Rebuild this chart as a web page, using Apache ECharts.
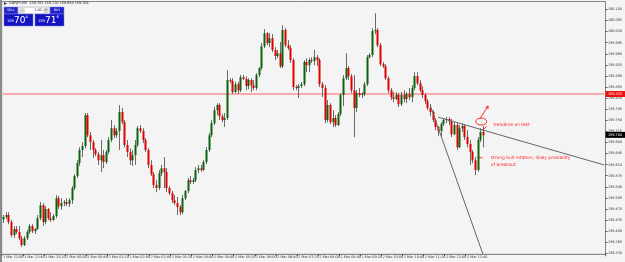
<!DOCTYPE html>
<html><head><meta charset="utf-8">
<script src="https://cdn.jsdelivr.net/npm/echarts@6/dist/echarts.min.js"></script>
<style>html,body{margin:0;padding:0;background:#f4f4f4;}#c{width:625px;height:262px;}</style>
</head><body><div id="c"></div>
<script>
const opens = [159.438,159.445,
159.451,159.429,159.388,159.407,159.397,159.378,159.356,159.378,159.397,159.416,159.400,159.407,159.441,159.482,159.429,159.470,159.441,159.435,159.448,159.504,159.479,159.489,159.492,159.486,
159.498,159.536,159.574,159.615,159.656,159.669,159.766,159.703,159.681,159.656,159.643,159.624,159.640,159.618,159.650,
159.688,159.725,159.703,159.716,159.776,159.744,159.672,159.650,159.624,159.640,159.672,159.725,159.716,
159.688,159.656,159.609,159.580,159.546,159.536,159.583,159.599,159.587,159.536,159.520,159.498,159.489,159.476,159.460,159.504,159.527,159.561,159.555,159.561,159.593,159.599,159.593,159.618,
159.656,159.703,159.741,159.782,159.798,159.763,159.751,159.757,159.877,159.874,159.839,159.864,159.845,159.886,159.880,159.858,159.877,159.861,159.852,159.893,
159.915,159.984,160.025,159.994,160.009,159.972,159.953,159.962,159.921,160.035,159.987,159.978,159.940,159.855,159.852,159.858,159.864,159.934,159.924,159.940,
159.937,159.949,159.940,159.864,159.852,159.751,159.798,159.744,159.757,159.735,159.770,159.830,159.883,159.915,159.889,159.845,159.789,159.836,159.830,159.833,
159.864,159.949,159.956,160.032,160.035,159.987,159.927,159.921,159.883,159.845,159.823,159.817,159.830,159.801,159.830,159.817,159.833,
159.823,
159.852,159.889,159.867,159.845,159.830,159.811,159.789,159.776,159.751,159.729,159.716,159.738,159.751,159.754,159.747,159.706,159.735,159.665,159.725,159.732,159.697,159.675,159.650,159.624,159.593,159.688,159.713];
const closes = [159.445,159.451,
159.429,159.388,159.407,159.397,159.378,159.356,159.378,159.397,159.416,159.400,159.407,159.441,159.482,159.429,159.470,159.441,159.435,159.448,159.504,159.479,159.489,159.492,159.486,159.498,
159.536,159.574,159.615,159.656,159.669,159.766,159.703,159.681,159.656,159.643,159.624,159.640,159.618,159.650,159.688,
159.725,159.703,159.716,159.776,159.744,159.672,159.650,159.624,159.640,159.672,159.725,159.716,159.688,
159.656,159.609,159.580,159.546,159.536,159.583,159.599,159.587,159.536,159.520,159.498,159.489,159.476,159.460,159.504,159.527,159.561,159.555,159.561,159.593,159.599,159.593,159.618,159.656,
159.703,159.741,159.782,159.798,159.763,159.751,159.757,159.877,159.874,159.839,159.864,159.845,159.886,159.880,159.858,159.877,159.861,159.852,159.893,159.915,
159.984,160.025,159.994,160.009,159.972,159.953,159.962,159.921,160.035,159.987,159.978,159.940,159.855,159.852,159.858,159.864,159.934,159.924,159.940,159.937,
159.949,159.940,159.864,159.852,159.751,159.798,159.744,159.757,159.735,159.770,159.830,159.883,159.915,159.889,159.845,159.789,159.836,159.830,159.833,159.864,
159.949,159.956,160.032,160.035,159.987,159.927,159.921,159.883,159.845,159.823,159.817,159.830,159.801,159.830,159.817,159.833,159.823,
159.852,
159.889,159.867,159.845,159.830,159.811,159.789,159.776,159.751,159.729,159.716,159.738,159.751,159.754,159.747,159.706,159.735,159.665,159.725,159.732,159.697,159.675,159.650,159.624,159.593,159.688,159.713,159.703];
const lows = [159.426,159.438,
159.422,159.381,159.378,159.391,159.372,159.350,159.353,159.372,159.391,159.394,159.391,159.404,159.435,159.416,159.422,159.435,159.429,159.432,159.441,159.470,159.467,159.479,159.479,159.476,
159.486,159.530,159.568,159.606,159.634,159.662,159.697,159.656,159.631,159.637,159.609,159.587,159.599,159.612,159.643,
159.681,159.694,159.694,159.656,159.738,159.665,159.634,159.609,159.606,159.609,159.665,159.710,159.678,
159.650,159.599,159.574,159.536,159.523,159.530,159.574,159.536,159.523,159.514,159.489,159.482,159.451,159.451,159.454,159.498,159.520,159.549,159.549,159.555,159.583,159.587,159.590,159.612,
159.650,159.697,159.735,159.766,159.751,159.744,159.729,159.751,159.867,159.833,159.836,159.833,159.839,159.877,159.845,159.848,159.839,159.845,159.845,159.886,
159.908,159.978,159.987,159.981,159.965,159.940,159.946,159.915,159.915,159.981,159.972,159.931,159.845,159.845,159.820,159.852,159.858,159.902,159.902,159.931,
159.924,159.921,159.855,159.823,159.741,159.744,159.738,159.729,159.729,159.732,159.763,159.795,159.877,159.877,159.836,159.697,159.776,159.823,159.820,159.826,
159.858,159.946,159.949,160.022,159.981,159.921,159.915,159.877,159.836,159.814,159.807,159.814,159.792,159.795,159.807,159.804,159.814,
159.807,
159.845,159.861,159.839,159.820,159.801,159.782,159.763,159.744,159.719,159.700,159.697,159.732,159.741,159.735,159.697,159.703,159.656,159.662,159.713,159.688,159.665,159.609,159.615,159.577,159.587,159.681,159.665];
const highs = [159.451,159.460,
159.460,159.435,159.416,159.416,159.416,159.385,159.385,159.404,159.422,159.422,159.410,159.451,159.492,159.489,159.479,159.473,159.460,159.454,159.514,159.511,159.504,159.498,159.504,159.504,
159.542,159.580,159.624,159.665,159.681,159.773,159.773,159.713,159.688,159.662,159.650,159.688,159.656,159.656,159.697,
159.751,159.735,159.725,159.798,159.789,159.751,159.688,159.662,159.656,159.688,159.732,159.735,159.725,
159.694,159.662,159.624,159.587,159.561,159.593,159.609,159.634,159.599,159.542,159.527,159.514,159.508,159.482,159.514,159.530,159.568,159.574,159.568,159.602,159.609,159.609,159.624,159.665,
159.710,159.751,159.792,159.804,159.804,159.770,159.773,159.908,159.883,159.883,159.871,159.871,159.893,159.893,159.889,159.883,159.883,159.877,159.899,159.918,
159.994,160.038,160.028,160.025,160.022,159.981,159.972,159.997,160.050,160.041,160.003,159.987,159.946,159.861,159.864,159.871,159.940,159.946,159.946,159.949,
159.972,159.956,159.946,159.871,159.861,159.814,159.804,159.782,159.766,159.776,159.836,159.893,159.962,159.921,159.896,159.893,159.845,159.852,159.839,159.871,
159.956,159.962,160.041,160.088,160.041,159.994,159.934,159.927,159.889,159.852,159.839,159.839,159.836,159.839,159.845,159.839,159.852,
159.861,
159.902,159.902,159.877,159.858,159.836,159.817,159.801,159.782,159.757,159.732,159.744,159.757,159.760,159.760,159.754,159.744,159.741,159.735,159.741,159.738,159.719,159.688,159.656,159.634,159.697,159.725,159.732];
const totalSlots = 229;
const priceTicks = [160.100,160.065,160.030,159.995,159.960,159.925,159.890,159.855,159.820,159.785,159.750,159.715,159.680,159.645,159.610,159.575,159.540,159.505,159.470,159.435,159.400,159.365,159.330];
const timeLabels = ['1 Mar 22:00','1 Mar 22:40','1 Mar 23:20','2 Mar 00:00','2 Mar 00:40','2 Mar 01:20','2 Mar 02:00','2 Mar 02:40','2 Mar 03:20','2 Mar 04:00','2 Mar 04:40','2 Mar 05:20','2 Mar 06:00','2 Mar 06:40','2 Mar 07:20','2 Mar 08:00','2 Mar 08:40','2 Mar 09:20','2 Mar 10:00','2 Mar 10:40','2 Mar 11:20','2 Mar 12:00','2 Mar 12:40'];
const labelEvery = 8;
const hLinePrice = 159.833;
const bidPrice = 159.704;
const trend1 = [[165, 159.760], [228, 159.609]];
const trend2 = [[162, 159.798], [182, 159.328]];

const cats = Array.from({length: totalSlots}, (_, i) => String(i));
const ohlc = opens.map((o, i) => [i, o, closes[i], lows[i], highs[i]]);

const chart = echarts.init(document.getElementById('c'), null, {renderer: 'canvas'});
const fontFam = 'Tahoma, "DejaVu Sans", sans-serif';
const showLab = (i) => i % labelEvery === 0 && i / labelEvery < timeLabels.length;
const lineSeries = (pts, color, z) => ({type: 'line', data: pts, symbol: 'none', silent: true, z: z, clip: false,
  lineStyle: {color: color, width: 1, type: 'solid'}, itemStyle: {color: color}, animation: false});
chart.setOption({
  backgroundColor: '#f4f4f4',
  animation: false,
  grid: {left: 1, right: 13, top: 1.5, bottom: 7.7, show: true, borderColor: '#888', borderWidth: 1, backgroundColor: '#f4f4f4'},
  xAxis: {
    type: 'category', data: cats, boundaryGap: true,
    axisLine: {show: true, lineStyle: {color: '#888', width: 1}},
    axisTick: {show: true, length: 2, lineStyle: {color: '#555'}, interval: showLab},
    axisLabel: {show: true, interval: showLab, fontSize: 3.4, color: '#333', margin: 1.5, align: 'left', fontFamily: fontFam,
      formatter: (v, i) => showLab(i) ? timeLabels[i / labelEvery] : ''},
    splitLine: {show: false}
  },
  yAxis: {
    type: 'value', position: 'right', min: 159.327, max: 160.125, scale: true,
    axisLine: {show: true, lineStyle: {color: '#888'}},
    axisTick: {show: true, length: 2, lineStyle: {color: '#555'}, customValues: priceTicks},
    axisLabel: {show: true, fontSize: 3.4, color: '#333', margin: 2.5, fontFamily: fontFam, customValues: priceTicks, formatter: (v) => v.toFixed(3)},
    splitLine: {show: false}
  },
  series: [
    lineSeries([[0, hLinePrice], [totalSlots - 1, hLinePrice]], '#ff6060', 1),
    {
      type: 'custom', data: ohlc, encode: {x: 0, y: [1, 2, 3, 4]}, clip: true, z: 2,
      renderItem: function (params, api) {
        const i = api.value(0), o = api.value(1), c = api.value(2), l = api.value(3), h = api.value(4);
        const pO = api.coord([i, o]), pC = api.coord([i, c]), pL = api.coord([i, l]), pH = api.coord([i, h]);
        const x = Math.round(pO[0]) + 0.5;
        const top = Math.min(pO[1], pC[1]), bot = Math.max(pO[1], pC[1]);
        const col = c >= o ? '#0d620d' : '#e00000';
        return {type: 'group', children: [
          {type: 'line', shape: {x1: x, y1: pH[1], x2: x, y2: pL[1]}, style: {stroke: '#6a6a6a', lineWidth: 1}},
          {type: 'rect', shape: {x: x - 1, y: top, width: 2, height: Math.max(1, bot - top)}, style: {fill: col}}
        ]};
      }
    },
    lineSeries(trend1, '#666', 3),
    lineSeries(trend2, '#666', 3)
  ]
});

const annoRed = '#ff2a2a';
const P = (idx, price) => chart.convertToPixel({xAxisIndex: 0, yAxisIndex: 0}, [idx, price]);
const ell = P(181, 159.746);
const arrA = P(181, 159.757), arrB = P(184, 159.795);
const t1 = P(186, 159.735);
const t2 = P(185, 159.631);
const t3 = P(185, 159.609);
const tk = P(182, 159.722);
const dash = P(180, 159.634);
const hTagY = P(0, hLinePrice)[1];
const bidTagY = P(0, bidPrice)[1];
const axisX = P(totalSlots - 1, bidPrice)[0] + 1.3;
const ang = Math.atan2(arrB[1] - arrA[1], arrB[0] - arrA[0]);
const ah = 3;
const tag = (y, bg, price) => [
  {type: 'rect', z: 10, shape: {x: axisX, y: y - 3, width: 625 - axisX, height: 6}, style: {fill: bg}},
  {type: 'text', z: 11, x: axisX + 2.5, y: y, style: {text: price.toFixed(3), fill: '#fff', fontSize: 3.4, fontFamily: fontFam, verticalAlign: 'middle', align: 'left'}}
];
chart.setOption({
  graphic: [
    {type: 'rect', left: 0, top: 0, shape: {x: 0, y: 0, width: 2, height: 262}, style: {fill: '#8a8a8a'}},
    ...tag(hTagY, '#ee1111', hLinePrice),
    ...tag(bidTagY, '#000000', bidPrice),
    {type: 'ellipse', shape: {cx: ell[0] + 1, cy: ell[1], rx: 5.5, ry: 3.5}, style: {stroke: annoRed, fill: 'none', lineWidth: 1}},
    {type: 'line', shape: {x1: arrA[0], y1: arrA[1], x2: arrB[0], y2: arrB[1]}, style: {stroke: annoRed, lineWidth: 1}},
    {type: 'polyline', shape: {points: [[arrB[0] - ah * Math.cos(ang - 0.5), arrB[1] - ah * Math.sin(ang - 0.5)], [arrB[0], arrB[1]], [arrB[0] - ah * Math.cos(ang + 0.5), arrB[1] - ah * Math.sin(ang + 0.5)]]}, style: {stroke: annoRed, fill: 'none', lineWidth: 1}},
    {type: 'polyline', shape: {points: [[tk[0] + 4, tk[1] - 3], [tk[0] + 1, tk[1]], [tk[0] - 1, tk[1] + 1]]}, style: {stroke: annoRed, fill: 'none', lineWidth: 1}},
    {type: 'line', shape: {x1: dash[0], y1: dash[1], x2: dash[0] + 5, y2: dash[1] + 1}, style: {stroke: annoRed, lineWidth: 1}},
    {type: 'text', x: t1[0], y: t1[1], style: {text: 'trendline on test', fill: annoRed, fontSize: 4.4, fontFamily: fontFam, verticalAlign: 'middle', align: 'left'}},
    {type: 'text', x: t2[0], y: t2[1], style: {text: 'strong bull rotation, likely possibility', fill: annoRed, fontSize: 4.4, fontFamily: fontFam, verticalAlign: 'middle', align: 'left'}},
    {type: 'text', x: t3[0], y: t3[1], style: {text: 'of breakout', fill: annoRed, fontSize: 4.4, fontFamily: fontFam, verticalAlign: 'middle', align: 'left'}},
    {type: 'polygon', shape: {points: [[4, 2], [7, 3.5], [4, 5]]}, style: {fill: '#333'}},
    {type: 'text', x: 9, y: 3.6, style: {text: 'GBPJPY,M5  159.705 159.720 159.658 159.704', fill: '#222', fontSize: 3.4, fontFamily: fontFam, verticalAlign: 'middle'}},
    {type: 'rect', shape: {x: 4, y: 7, width: 14, height: 7}, style: {fill: '#2323c8', stroke: '#8888ee', lineWidth: 0.5}},
    {type: 'text', x: 11, y: 10.5, style: {text: 'SELL', fill: '#fff', fontSize: 3.2, fontFamily: fontFam, align: 'center', verticalAlign: 'middle'}},
    {type: 'rect', shape: {x: 18, y: 7, width: 32, height: 7}, style: {fill: '#eeeeee', stroke: '#aaa', lineWidth: 0.5}},
    {type: 'rect', shape: {x: 19.5, y: 8, width: 5, height: 5}, style: {fill: '#d8d8d8'}},
    {type: 'rect', shape: {x: 43.5, y: 8, width: 5, height: 5}, style: {fill: '#d8d8d8'}},
    {type: 'rect', shape: {x: 25.5, y: 8, width: 17, height: 5}, style: {fill: '#ffffff'}},
    {type: 'text', x: 22, y: 10.5, style: {text: '-', fill: '#333', fontSize: 3.5, fontFamily: fontFam, align: 'center', verticalAlign: 'middle'}},
    {type: 'text', x: 46, y: 10.5, style: {text: '+', fill: '#333', fontSize: 3.5, fontFamily: fontFam, align: 'center', verticalAlign: 'middle'}},
    {type: 'text', x: 38, y: 10.5, style: {text: '1.00', fill: '#222', fontSize: 3.4, fontFamily: fontFam, align: 'center', verticalAlign: 'middle'}},
    {type: 'rect', shape: {x: 50, y: 7, width: 14, height: 7}, style: {fill: '#2323c8', stroke: '#8888ee', lineWidth: 0.5}},
    {type: 'text', x: 57, y: 10.5, style: {text: 'BUY', fill: '#fff', fontSize: 3.2, fontFamily: fontFam, align: 'center', verticalAlign: 'middle'}},
    {type: 'rect', shape: {x: 4, y: 14, width: 29, height: 12}, style: {fill: '#1414c0', stroke: '#7777dd', lineWidth: 0.5}},
    {type: 'rect', shape: {x: 35, y: 14, width: 29, height: 12}, style: {fill: '#1414c0', stroke: '#7777dd', lineWidth: 0.5}},
    {type: 'text', x: 7, y: 21.5, style: {text: '159', fill: '#fff', fontSize: 3.6, fontFamily: fontFam, verticalAlign: 'middle'}},
    {type: 'text', x: 14, y: 20.5, style: {text: '70', fill: '#fff', fontSize: 9, fontFamily: fontFam, verticalAlign: 'middle'}},
    {type: 'text', x: 25.5, y: 17.5, style: {text: '4', fill: '#fff', fontSize: 3.6, fontFamily: fontFam, verticalAlign: 'middle'}},
    {type: 'text', x: 38, y: 21.5, style: {text: '159', fill: '#fff', fontSize: 3.6, fontFamily: fontFam, verticalAlign: 'middle'}},
    {type: 'text', x: 45, y: 20.5, style: {text: '71', fill: '#fff', fontSize: 9, fontFamily: fontFam, verticalAlign: 'middle'}},
    {type: 'text', x: 56.5, y: 17.5, style: {text: '6', fill: '#fff', fontSize: 3.6, fontFamily: fontFam, verticalAlign: 'middle'}}
  ]
});
</script>
</body></html>
